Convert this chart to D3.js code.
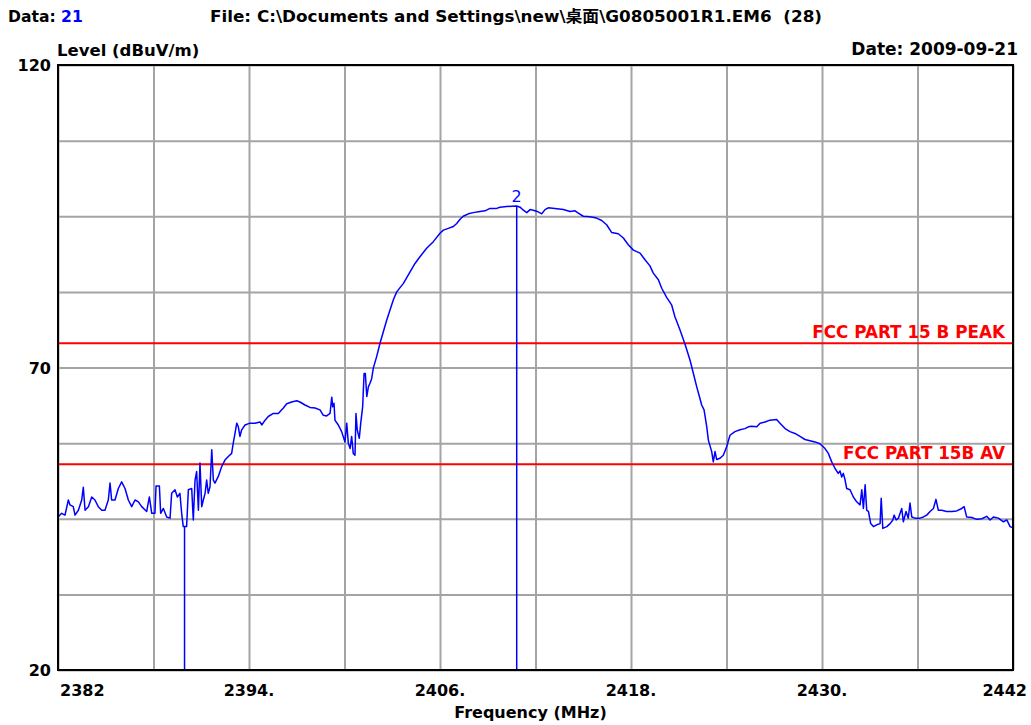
<!DOCTYPE html>
<html>
<head>
<meta charset="utf-8">
<script src="https://cdn.jsdelivr.net/npm/d3@7"></script>
<style>
  body { margin: 0; background: #fff; }
  text { font-family: "DejaVu Sans", "Noto Sans CJK SC", sans-serif; font-weight: bold; }
</style>
</head>
<body>
<div id="chart"></div>
<script>
// sweep trace: [frequency MHz, level dBuV/m]
var trace = [
  [2382.00,45.3],[2382.23,45.9],[2382.44,45.6],[2382.65,48.1],[2382.75,47.3],[2382.96,47.0],[2383.07,45.6],
  [2383.28,46.4],[2383.49,48.1],[2383.59,50.2],[2383.70,46.4],[2383.91,47.0],[2384.12,48.6],[2384.32,48.1],
  [2384.53,47.0],[2384.75,46.4],[2384.95,46.4],[2385.16,48.1],[2385.27,50.9],[2385.37,48.1],[2385.58,48.1],
  [2385.79,50.0],[2386.00,51.1],[2386.21,50.0],[2386.42,48.1],[2386.63,47.0],[2386.84,48.1],[2387.05,47.8],
  [2387.26,47.0],[2387.57,46.2],[2387.74,48.6],[2387.89,45.9],[2388.09,45.9],[2388.16,50.4],[2388.37,50.4],
  [2388.45,45.9],[2388.62,46.7],[2388.83,45.3],[2389.04,45.1],[2389.14,49.2],[2389.35,49.8],[2389.50,48.6],
  [2389.66,49.2],[2389.77,45.9],[2389.87,43.7],[2390.08,43.7],[2390.19,49.8],[2390.40,50.0],[2390.50,44.8],
  [2390.61,51.4],[2390.71,52.8],[2390.82,46.4],[2390.92,54.2],[2391.03,47.0],[2391.13,48.1],[2391.24,49.2],
  [2391.34,51.4],[2391.44,49.2],[2391.55,50.3],[2391.66,56.4],[2391.76,51.4],[2391.86,50.9],[2392.07,52.0],
  [2392.28,53.6],[2392.49,54.7],[2392.70,55.3],[2392.91,55.8],[2393.01,57.5],[2393.12,59.1],[2393.23,60.8],
  [2393.33,60.2],[2393.43,58.6],[2393.54,59.7],[2393.75,60.5],[2394.06,60.8],[2394.38,60.8],[2394.69,61.0],
  [2394.80,60.5],[2395.01,61.3],[2395.21,61.9],[2395.53,62.4],[2395.84,62.4],[2396.16,63.3],[2396.37,64.0],
  [2396.68,64.3],[2397.00,64.5],[2397.20,64.3],[2397.52,63.8],[2397.83,63.4],[2398.15,63.3],[2398.46,63.0],
  [2398.67,62.1],[2398.88,62.0],[2399.09,62.4],[2399.20,65.1],[2399.26,63.5],[2399.34,64.1],[2399.40,61.3],
  [2399.61,60.5],[2399.82,59.4],[2400.03,57.7],[2400.14,60.8],[2400.24,57.5],[2400.35,56.6],[2400.45,58.6],
  [2400.55,55.8],[2400.66,55.5],[2400.72,62.4],[2400.80,59.7],[2400.93,58.3],[2401.02,60.8],[2401.14,63.5],
  [2401.23,69.0],[2401.31,69.0],[2401.40,65.2],[2401.50,66.8],[2401.60,67.4],[2401.71,68.2],[2401.81,69.9],
  [2402.02,71.8],[2402.23,74.0],[2402.44,75.9],[2402.65,77.8],[2402.86,79.5],[2403.07,81.2],[2403.28,82.5],
  [2403.70,83.9],[2404.12,85.8],[2404.43,87.2],[2404.74,88.3],[2405.16,89.7],[2405.58,90.8],[2406.00,92.2],
  [2406.21,92.7],[2406.52,93.0],[2406.84,93.3],[2407.05,93.8],[2407.26,94.5],[2407.46,95.0],[2407.78,95.4],
  [2408.09,95.6],[2408.51,95.8],[2408.83,95.9],[2409.14,96.3],[2409.56,96.3],[2409.77,96.5],[2410.19,96.6],
  [2410.82,96.7],[2411.03,96.5],[2411.24,96.0],[2411.45,95.6],[2411.66,96.1],[2411.86,96.0],[2412.11,95.8],
  [2412.39,95.4],[2412.60,96.1],[2412.80,96.4],[2413.22,96.3],[2413.75,96.1],[2414.17,95.8],[2414.48,95.9],
  [2414.69,95.5],[2415.00,95.0],[2415.42,94.9],[2415.84,94.7],[2416.16,94.3],[2416.47,93.6],[2416.79,92.3],
  [2417.20,92.1],[2417.52,91.4],[2417.83,90.3],[2418.15,89.4],[2418.57,88.9],[2418.88,87.8],[2419.19,86.8],
  [2419.40,85.6],[2419.72,84.5],[2419.93,83.1],[2420.24,81.6],[2420.56,80.3],[2420.76,78.4],[2421.08,76.2],
  [2421.39,73.9],[2421.71,71.2],[2421.92,69.0],[2422.13,66.8],[2422.34,64.8],[2422.44,63.8],[2422.59,63.0],
  [2422.76,60.2],[2422.86,58.0],[2423.07,56.1],[2423.17,54.4],[2423.28,56.1],[2423.38,54.8],[2423.59,55.0],
  [2423.80,55.5],[2424.01,56.9],[2424.22,58.8],[2424.53,59.4],[2424.85,59.7],[2425.16,59.9],[2425.37,60.2],
  [2425.58,60.3],[2425.90,60.2],[2426.11,60.8],[2426.42,61.0],[2426.73,61.3],[2427.15,61.4],[2427.36,60.8],
  [2427.68,59.9],[2427.99,59.4],[2428.30,59.1],[2428.62,58.6],[2428.93,58.1],[2429.25,57.9],[2429.56,57.7],
  [2429.87,57.4],[2430.19,56.6],[2430.40,55.8],[2430.61,54.4],[2430.82,53.3],[2431.02,52.5],[2431.13,52.9],
  [2431.24,51.9],[2431.34,52.5],[2431.45,51.4],[2431.55,50.0],[2431.76,49.8],[2431.97,48.6],[2432.18,47.8],
  [2432.39,47.3],[2432.50,49.8],[2432.60,46.7],[2432.71,50.6],[2432.81,46.4],[2432.92,46.2],[2433.06,44.2],
  [2433.23,43.7],[2433.44,44.0],[2433.65,44.2],[2433.72,48.4],[2433.82,43.4],[2434.07,43.7],[2434.28,44.2],
  [2434.45,44.8],[2434.53,45.6],[2434.66,44.8],[2434.80,45.1],[2435.01,46.7],[2435.11,44.5],[2435.28,46.2],
  [2435.42,45.1],[2435.53,47.6],[2435.64,45.3],[2435.84,45.1],[2436.16,45.1],[2436.37,45.3],[2436.58,45.6],
  [2436.79,46.2],[2437.00,46.7],[2437.16,48.2],[2437.31,46.4],[2437.52,46.4],[2437.83,46.2],[2438.15,46.2],
  [2438.46,46.3],[2438.78,46.7],[2438.93,47.0],[2439.09,45.3],[2439.41,45.2],[2439.72,44.9],[2440.04,45.0],
  [2440.35,45.4],[2440.56,44.8],[2440.77,45.3],[2441.08,45.1],[2441.40,44.5],[2441.61,44.8],[2441.82,43.7],
  [2442.00,43.5]
];

// limit lines
var limitNames = ["FCC PART 15 B PEAK", "FCC PART 15B AV"];
var limitLevels = [74, 54];

// markers
var markerFreqs = [2389.95, 2410.82];
var markerLevels = [43.7, 96.7];
var markerLabels = ["", "2"];

// axis stuff
var xGridTicks = [2382, 2388, 2394, 2400, 2406, 2412, 2418, 2424, 2430, 2436, 2442];
var xLabelTicks = [2382, 2394, 2406, 2418, 2430, 2442];
var xLabelText = ["2382", "2394.", "2406.", "2418.", "2430.", "2442"];
var yGridTicks = [20, 32.5, 45, 57.5, 70, 82.5, 95, 107.5, 120];
var yLabelTicks = [120, 70, 20];

var dataNo = "21";
var fileName = "File: C:\\Documents and Settings\\new\\桌面\\G0805001R1.EM6  (28)";
var dateText = "Date: 2009-09-21";

var W = 1031, H = 725;
var margin = {left: 58, top: 65, right: 18, bottom: 55};
var w = W - margin.left - margin.right,
    h = H - margin.top - margin.bottom;

var svg = d3.select("#chart").append("svg")
  .attr("width", W)
  .attr("height", H);

var x = d3.scaleLinear().domain([2382, 2442]).range([0, w]);
var y = d3.scaleLinear().domain([20, 120]).range([h, 0]);

var g = svg.append("g").attr("transform", "translate(" + margin.left + "," + margin.top + ")");

// grid
g.append("g")
  .attr("transform", "translate(0," + h + ")")
  .call(d3.axisBottom(x).tickValues(xGridTicks).tickSize(-h).tickFormat(""))
  .call(function(a) {
    a.select(".domain").remove();
    a.selectAll("line").attr("stroke", "#a4a4a4").attr("stroke-width", 2);
  });

g.append("g")
  .call(d3.axisLeft(y).tickValues(yGridTicks).tickSize(-w).tickFormat(""))
  .call(function(a) {
    a.select(".domain").remove();
    a.selectAll("line").attr("stroke", "#a4a4a4").attr("stroke-width", 2);
  });

// limit lines
g.selectAll(".limit")
  .data(limitLevels)
  .enter().append("line")
    .attr("class", "limit")
    .attr("x1", 0).attr("x2", w)
    .attr("y1", function(d) { return y(d); })
    .attr("y2", function(d) { return y(d); })
    .attr("stroke", "#ff0000")
    .attr("stroke-width", 2);

g.selectAll(".limitLabel")
  .data(limitLevels)
  .enter().append("text")
    .attr("class", "limitLabel")
    .attr("x", w - 8)
    .attr("y", function(d) { return y(d) - 5; })
    .attr("text-anchor", "end")
    .attr("fill", "#ff0000")
    .style("font-size", "16.8px")
    .text(function(d, i) { return limitNames[i]; });

// markers (vertical lines to the bottom)
g.selectAll(".marker")
  .data(markerFreqs)
  .enter().append("line")
    .attr("class", "marker")
    .attr("x1", function(d) { return x(d); })
    .attr("x2", function(d) { return x(d); })
    .attr("y1", function(d, i) { return y(markerLevels[i]); })
    .attr("y2", h)
    .attr("stroke", "#0000ff")
    .attr("stroke-width", 1.5);

g.selectAll(".markerLabel")
  .data(markerFreqs)
  .enter().append("text")
    .attr("class", "markerLabel")
    .attr("x", function(d) { return x(d); })
    .attr("y", function(d, i) { return y(markerLevels[i]) - 4; })
    .attr("text-anchor", "middle")
    .attr("fill", "#0000ff")
    .style("font-size", "16px")
    .style("font-weight", "normal")
    .text(function(d, i) { return markerLabels[i]; });

// trace
var line = d3.line()
  .x(function(d) { return x(d[0]); })
  .y(function(d) { return y(d[1]); });

g.append("path")
  .datum(trace)
  .attr("fill", "none")
  .attr("stroke", "#0000ff")
  .attr("stroke-width", 1.5)
  .attr("stroke-linejoin", "round")
  .attr("d", line);

// frame
g.append("rect")
  .attr("width", w).attr("height", h)
  .attr("fill", "none")
  .attr("stroke", "#000")
  .attr("stroke-width", 2);

// y labels
g.selectAll(".ylab")
  .data(yLabelTicks)
  .enter().append("text")
    .attr("class", "ylab")
    .attr("x", -7)
    .attr("y", function(d) { return y(d) + 6; })
    .attr("text-anchor", "end")
    .style("font-size", "16px")
    .text(function(d) { return d; });

// x labels
g.selectAll(".xlab")
  .data(xLabelTicks)
  .enter().append("text")
    .attr("class", "xlab")
    .attr("x", function(d, i) {
      if (i == 0) return 2;
      if (i == xLabelTicks.length - 1) return x(d) + 14;
      return x(d);
    })
    .attr("y", h + 26)
    .attr("text-anchor", function(d, i) {
      if (i == 0) return "start";
      if (i == xLabelTicks.length - 1) return "end";
      return "middle";
    })
    .style("font-size", "16px")
    .text(function(d, i) { return xLabelText[i]; });

g.append("text")
  .attr("x", w / 2 - 5)
  .attr("y", h + 48)
  .attr("text-anchor", "middle")
  .style("font-size", "16px")
  .text("Frequency (MHz)");

g.append("text")
  .attr("x", -1)
  .attr("y", -9)
  .style("font-size", "16.5px")
  .text("Level (dBuV/m)");

g.append("text")
  .attr("x", w + 5)
  .attr("y", -10)
  .attr("text-anchor", "end")
  .style("font-size", "17px")
  .text(dateText);

// header
var hd = svg.append("text")
  .attr("x", 8)
  .attr("y", 22)
  .style("font-size", "15.6px");
hd.append("tspan").text("Data: ");
hd.append("tspan").attr("fill", "#0000ff").text(dataNo);

svg.append("text")
  .attr("x", 210)
  .attr("y", 22)
  .attr("xml:space", "preserve")
  .attr("textLength", 612)
  .attr("lengthAdjust", "spacingAndGlyphs")
  .style("font-size", "15.6px")
  .style("white-space", "pre")
  .text(fileName);
</script>
</body>
</html>
